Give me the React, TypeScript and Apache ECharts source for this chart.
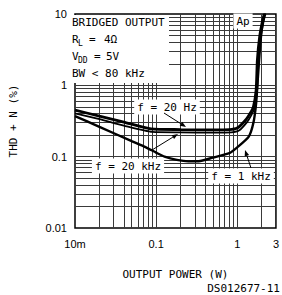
import React, { useEffect, useRef } from "react";
import * as echarts from "echarts";

// ---- data ----
const power20Hz = [0.01, 0.02, 0.04, 0.087, 0.2, 0.5, 0.8, 1.0, 1.27, 1.45, 1.58, 1.71, 1.77, 1.89, 2.06, 2.16];
const thd20Hz = [0.45, 0.37, 0.305, 0.245, 0.24, 0.237, 0.239, 0.252, 0.327, 0.41, 0.497, 0.86, 2.26, 4.8, 8.2, 10];

const power20kHz = [0.01, 0.02, 0.04, 0.09, 0.2, 0.5, 0.85, 1.05, 1.32, 1.5, 1.63, 1.76, 1.83, 1.95, 2.12, 2.22];
const thd20kHz = [0.405, 0.335, 0.272, 0.222, 0.219, 0.217, 0.219, 0.232, 0.305, 0.385, 0.475, 0.85, 2.2, 4.7, 8.0, 10];

const power1kHz = [0.01, 0.02, 0.05, 0.074, 0.1, 0.127, 0.18, 0.25, 0.35, 0.5, 0.8, 1.0, 1.38, 1.58, 1.71, 1.8, 1.9, 2.0, 2.16, 2.25];
const thd1kHz = [0.37, 0.262, 0.165, 0.136, 0.114, 0.1, 0.09, 0.086, 0.087, 0.097, 0.112, 0.135, 0.189, 0.296, 0.565, 1.31, 3.13, 5.97, 9.7, 10];

const xTicks = [0.01, 0.1, 1, 3];
const xTickLabels = ["10m", "0.1", "1", "3"];
const yTicks = [0.01, 0.1, 1, 10];
const yTickLabels = ["0.01", "0.1", "1", "10"];

const gridMultipliers = [2, 3, 4, 5, 6, 7, 8, 9];
const xDecades = [0.01, 0.1, 1];
const yDecades = [0.01, 0.1, 1];

const MONO = "DejaVu Sans Mono";
const SANS = "Liberation Sans";

function pickLabel(v: number, ticks: number[], labels: string[]) {
  for (let i = 0; i < ticks.length; i++) {
    if (Math.abs(Math.log10(v) - Math.log10(ticks[i])) < 0.01) return labels[i];
  }
  return "";
}

export default function App() {
  const ref = useRef<HTMLDivElement>(null);
  useEffect(() => {
    if (!ref.current) return;
    document.body.style.margin = "0";
    const chart = echarts.init(ref.current, null, { renderer: "svg" });

    const xGrid: number[] = [];
    xDecades.forEach((d) => {
      if (d !== 0.01) xGrid.push(d);
      gridMultipliers.forEach((m) => {
        const v = +(d * m).toPrecision(3);
        if (v < 3) xGrid.push(v);
      });
    });
    const yGrid: number[] = [];
    yDecades.forEach((d) => {
      if (d !== 0.01) yGrid.push(d);
      gridMultipliers.forEach((m) => yGrid.push(+(d * m).toPrecision(3)));
    });

    const zip = (xs: number[], ys: number[]) => xs.map((x, i) => [x, ys[i]]);
    const curve = (name: string, xs: number[], ys: number[], w: number) => ({
      name,
      type: "line",
      data: zip(xs, ys),
      showSymbol: false,
      smooth: 0.2,
      z: 10,
      lineStyle: { color: "#000", width: w },
    });

    const txt = (x: number, y: number, text: string, opts: any = {}) => ({
      type: "text",
      x,
      y,
      z: 100,
      style: {
        text,
        fill: "#000",
        font: `${opts.size || 11}px "${opts.family || MONO}"`,
        align: opts.align || "left",
        verticalAlign: "middle",
        backgroundColor: opts.bg,
        padding: opts.pad,
      },
    });

    const arrow = (x1: number, y1: number, x2: number, y2: number) => {
      const dx = x2 - x1, dy = y2 - y1;
      const len = Math.hypot(dx, dy);
      const ux = dx / len, uy = dy / len;
      const bx = x2 - ux * 6, by = y2 - uy * 6;
      const px = -uy * 2.3, py = ux * 2.3;
      return [
        { type: "line", z: 100, shape: { x1, y1, x2: bx, y2: by }, style: { stroke: "#000", lineWidth: 1 } },
        {
          type: "polygon",
          z: 100,
          shape: { points: [[x2, y2], [bx + px, by + py], [bx - px, by - py]] },
          style: { fill: "#000" },
        },
      ];
    };

    chart.setOption({
      animation: false,
      grid: {
        left: 66,
        top: 14,
        right: 3,
        bottom: 67,
        show: true,
        borderColor: "#000",
        borderWidth: 1.5,
        backgroundColor: "transparent",
      },
      xAxis: {
        type: "log",
        logBase: 10,
        min: 0.01,
        max: 3,
        name: "OUTPUT POWER (W)",
        nameLocation: "middle",
        nameGap: 41,
        nameTextStyle: { fontFamily: MONO, fontSize: 11, color: "#000" },
        axisLine: { show: false },
        axisTick: { show: false },
        splitLine: { show: false },
        axisLabel: {
          customValues: xTicks,
          formatter: (v: number) => pickLabel(v, xTicks, xTickLabels),
          fontFamily: SANS,
          fontSize: 11,
          color: "#000",
          margin: 10,
          hideOverlap: false,
          showMinLabel: true,
          showMaxLabel: true,
        },
      },
      yAxis: {
        type: "log",
        logBase: 10,
        min: 0.01,
        max: 10,
        name: "THD + N (%)",
        nameLocation: "middle",
        nameGap: 56,
        nameRotate: 90,
        nameTextStyle: { fontFamily: MONO, fontSize: 11, color: "#000" },
        axisLine: { show: false },
        axisTick: { show: false },
        splitLine: { show: false },
        axisLabel: {
          formatter: (v: number) => pickLabel(v, yTicks, yTickLabels),
          fontFamily: SANS,
          fontSize: 11,
          color: "#000",
          margin: 8,
        },
      },
      series: [
        {
          type: "line",
          data: [],
          markLine: {
            silent: true,
            symbol: ["none", "none"],
            z: 1,
            label: { show: false },
            lineStyle: { color: "#3a3a3a", width: 1, type: "solid" },
            data: [
              ...xGrid.map((v) => ({ xAxis: v })),
              ...yGrid.map((v) => ({ yAxis: v })),
            ],
          },
        },
        curve("f = 20 Hz", power20Hz, thd20Hz, 2.8),
        curve("f = 20 kHz", power20kHz, thd20kHz, 1.8),
        curve("f = 1 kHz", power1kHz, thd1kHz, 2.4),
      ],
      graphic: [
        { type: "rect", z: 90, shape: { x: 67, y: 15, width: 102, height: 68 }, style: { fill: "#fff" } },
        txt(72, 22, "BRIDGED OUTPUT"),
        txt(72, 39, "R"),
        txt(78, 43, "L", { size: 8 }),
        txt(89, 39, "="),
        txt(104, 39, "4Ω"),
        txt(72, 56, "V"),
        txt(78, 60, "DD", { size: 8 }),
        txt(94, 56, "="),
        txt(106, 56, "5V"),
        txt(72, 73, "BW < 80 kHz"),
        txt(243, 21, "Ap", { align: "center", bg: "#fff", pad: [2, 3] }),
        txt(167, 107, "f = 20 Hz", { align: "center", bg: "#fff", pad: [2, 3] }),
        txt(128, 166, "f = 20 kHz", { align: "center", bg: "#fff", pad: [2, 3] }),
        txt(241, 176, "f = 1 kHz", { align: "center", bg: "#fff", pad: [2, 3] }),
        ...arrow(164, 113, 186, 127),
        ...arrow(152, 150, 178, 134),
        ...arrow(251, 168, 245, 150),
        txt(280, 288, "DS012677-11", { align: "right" }),
      ],
    });
    return () => chart.dispose();
  }, []);
  return <div ref={ref} style={{ width: 282, height: 295 }} />;
}
